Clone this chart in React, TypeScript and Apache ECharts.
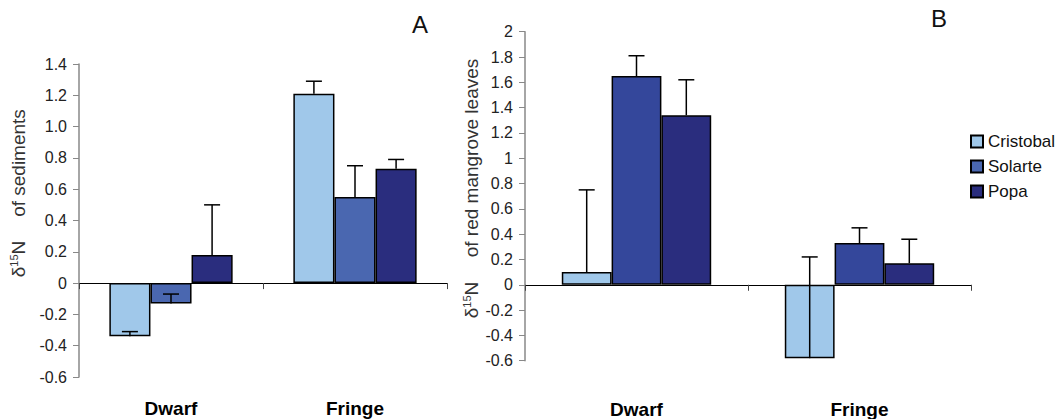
import React, { useEffect, useRef } from "react";
import * as echarts from "echarts";

const categories = ["Dwarf", "Fringe"];
const seriesNames = ["Cristobal", "Solarte", "Popa"];

// Panel A: δ15N of sediments
const aCristobal = [-0.34, 1.21];
const aSolarte = [-0.13, 0.55];
const aPopa = [0.18, 0.73];
const aCristobalErr = [0.03, 0.08];
const aSolarteErr = [0.06, 0.2];
const aPopaErr = [0.32, 0.06];

// Panel B: δ15N of red mangrove leaves
const bCristobal = [0.1, -0.58];
const bSolarte = [1.65, 0.33];
const bPopa = [1.34, 0.17];
const bCristobalErr = [0.65, 0.8];
const bSolarteErr = [0.16, 0.12];
const bPopaErr = [0.28, 0.19];

const colorsA = ["#A0C8EA", "#4A67B0", "#2A2D7E"];
const colorsB = ["#A0C8EA", "#34479B", "#2A2D7E"];

const CAT_GAP = 0.33;
const FONT = "Liberation Sans, Arial, sans-serif";

export default function App() {
  const ref = useRef<HTMLDivElement>(null);
  useEffect(() => {
    document.body.style.margin = "0";
    const chart = echarts.init(ref.current!, null, { renderer: "svg" });

    const grids = [
      { left: 79, top: 64, width: 368, height: 313 },
      { left: 525, top: 31.7, width: 446, height: 329 },
    ];

    const xAxes: any[] = [];
    const yAxes: any[] = [];
    grids.forEach((g, gi) => {
      xAxes.push({
        type: "category",
        gridIndex: gi,
        data: categories,
        axisLine: { onZero: true, lineStyle: { color: "#000", width: 1 } },
        axisTick: { show: true, length: 6, lineStyle: { color: "#444" } },
        axisLabel: { show: false },
        splitLine: { show: false },
      });
      xAxes.push({
        type: "category",
        gridIndex: gi,
        data: categories,
        position: "bottom",
        axisLine: { show: false, onZero: false },
        axisTick: { show: false },
        axisLabel: {
          show: true,
          margin: gi === 0 ? 22 : 39,
          fontFamily: FONT,
          fontWeight: "bold",
          fontSize: 19,
          color: "#000",
        },
        splitLine: { show: false },
      });
      yAxes.push({
        type: "value",
        gridIndex: gi,
        min: -0.6,
        max: gi === 0 ? 1.4 : 2,
        interval: 0.2,
        axisLine: { show: true, lineStyle: { color: "#888", width: 1.5 } },
        axisTick: { show: true, length: 6, lineStyle: { color: "#888" } },
        splitLine: { show: false },
        axisLabel: {
          fontFamily: FONT,
          fontSize: 16,
          color: "#222",
          margin: 12,
          formatter:
            gi === 0
              ? (v: number) => (Math.abs(v) < 1e-9 ? "0" : v.toFixed(1))
              : (v: number) => String(Math.round(v * 10) / 10),
        },
      });
    });

    const panels = [
      {
        vals: [aCristobal, aSolarte, aPopa],
        errs: [aCristobalErr, aSolarteErr, aPopaErr],
        colors: colorsA,
      },
      {
        vals: [bCristobal, bSolarte, bPopa],
        errs: [bCristobalErr, bSolarteErr, bPopaErr],
        colors: colorsB,
      },
    ];

    const series: any[] = [];
    panels.forEach((p, gi) => {
      p.vals.forEach((vals, si) => {
        series.push({
          type: "bar",
          name: seriesNames[si],
          xAxisIndex: gi * 2,
          yAxisIndex: gi,
          data: vals,
          barGap: "0%",
          barCategoryGap: CAT_GAP * 100 + "%",
          itemStyle: { color: p.colors[si], borderColor: "#000", borderWidth: 1.5 },
          z: 2,
        });
      });
      p.vals.forEach((vals, si) => {
        const errs = p.errs[si];
        series.push({
          type: "custom",
          name: "err" + gi + si,
          xAxisIndex: gi * 2,
          yAxisIndex: gi,
          z: 5,
          data: vals.map((v, ci) => [ci, v, v + errs[ci]]),
          renderItem: (params: any, api: any) => {
            const ci = api.value(0);
            const v = api.value(1);
            const hi = api.value(2);
            const base = api.coord([ci, v]);
            const top = api.coord([ci, hi]);
            const band = api.size([1, 0])[0];
            const barW = (band * (1 - CAT_GAP)) / 3;
            const x = base[0] + (si - 1) * barW;
            const cap = 8;
            const st = { stroke: "#000", lineWidth: 1.5 };
            return {
              type: "group",
              children: [
                { type: "line", shape: { x1: x, y1: base[1], x2: x, y2: top[1] }, style: st },
                { type: "line", shape: { x1: x - cap, y1: top[1], x2: x + cap, y2: top[1] }, style: st },
              ],
            };
          },
        });
      });
    });

    const nameRich = {
      n: { fontFamily: FONT, fontSize: 19, fill: "#333" },
      s: { fontFamily: FONT, fontSize: 11, fill: "#333", verticalAlign: "top", lineHeight: 19 },
    };

    chart.setOption({
      animation: false,
      grid: grids,
      xAxis: xAxes,
      yAxis: yAxes,
      series,
      legend: {
        data: seriesNames,
        orient: "vertical",
        left: 965,
        top: 128,
        itemWidth: 12,
        itemHeight: 12,
        itemGap: 8,
        icon: "rect",
        textStyle: { fontFamily: FONT, fontSize: 17, color: "#111" },
      },
      graphic: [
        { type: "text", left: 412, top: 12, style: { text: "A", fontFamily: FONT, fontSize: 24, fill: "#111" } },
        { type: "text", left: 931, top: 6, style: { text: "B", fontFamily: FONT, fontSize: 24, fill: "#111" } },
        {
          type: "text", x: 18, y: 163, rotation: Math.PI / 2,
          style: { text: "of sediments", fontFamily: FONT, fontSize: 19, fill: "#333", align: "center", verticalAlign: "middle" },
        },
        {
          type: "text", x: 18, y: 259, rotation: Math.PI / 2,
          style: { text: "{n|δ}{s|15}{n|N}", rich: nameRich, align: "center", verticalAlign: "middle" },
        },
        {
          type: "text", x: 471, y: 158, rotation: Math.PI / 2,
          style: { text: "of red mangrove leaves", fontFamily: FONT, fontSize: 19, fill: "#333", align: "center", verticalAlign: "middle" },
        },
        {
          type: "text", x: 471, y: 300, rotation: Math.PI / 2,
          style: { text: "{n|δ}{s|15}{n|N}", rich: nameRich, align: "center", verticalAlign: "middle" },
        },
      ],
    });
    return () => chart.dispose();
  }, []);
  return <div ref={ref} style={{ width: 1056, height: 419 }} />;
}
